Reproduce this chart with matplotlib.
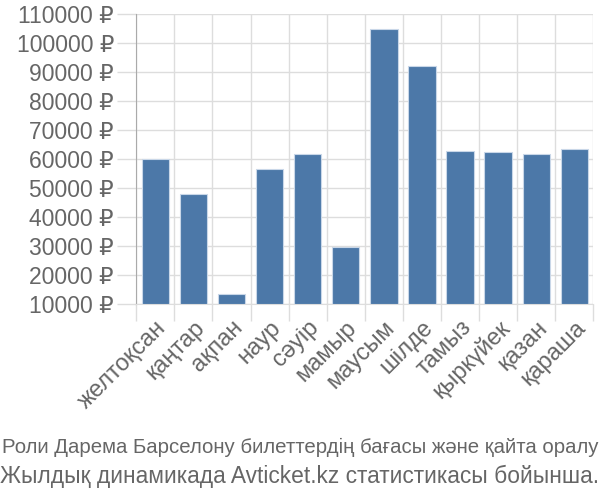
import matplotlib
matplotlib.use("Agg")
import matplotlib.pyplot as plt
import numpy as np

months = ["желтоқсан", "қаңтар", "ақпан", "наур", "сәуір", "мамыр",
          "маусым", "шілде", "тамыз", "қыркүйек", "қазан", "қараша"]
prices = [59900, 47900, 13300, 56400, 61600, 29500,
          104800, 92100, 62600, 62400, 61600, 63400]
yticks = [10000, 20000, 30000, 40000, 50000, 60000,
          70000, 80000, 90000, 100000, 110000]
caption = ["Роли Дарема Барселону билеттердің бағасы және қайта оралу",
           "Жылдық динамикада Avticket.kz статистикасы бойынша."]

plt.rcParams['font.family'] = ['Liberation Sans', 'DejaVu Sans']

grid_c = "#dddddd"
text_c = "#666666"

fig = plt.figure(figsize=(6, 5), dpi=100)
ax = fig.add_axes([0.227, 0.392, 0.762, 0.58])

x = np.arange(len(months))
ax.bar(x, np.array(prices) - yticks[0], bottom=yticks[0], width=0.72,
       color="#4c78a8", edgecolor="#c9d7e8", linewidth=0.8, zorder=3)

ax.set_xlim(-0.5, len(months) - 0.5)
ax.set_ylim(yticks[0], yticks[-1])

ax.set_yticks(yticks)
ax.set_yticklabels([f"{v} ₽" for v in yticks], fontsize=16.5, color=text_c)
ax.tick_params(axis='y', length=14, width=1, color=grid_c, pad=2)

ax.set_xticks(x)
ax.set_xticklabels(months, rotation=45, ha='right', rotation_mode='anchor',
                   fontsize=17, color=text_c)
ax.tick_params(axis='x', which='major', length=0, pad=9)
ax.set_xticks(np.arange(len(months) + 1) - 0.5, minor=True)
ax.tick_params(axis='x', which='minor', length=12, width=1, color=grid_c)

ax.grid(True, axis='y', color=grid_c, linewidth=1, zorder=0)
ax.grid(True, axis='x', which='minor', color=grid_c, linewidth=1, zorder=0)

for s in ['top', 'right']:
    ax.spines[s].set_visible(False)
ax.spines['left'].set_color("#aaaaaa")
ax.spines['bottom'].set_color(grid_c)

fig.text(0.5, 0.105, caption[0], ha='center', va='center', fontsize=14.7, color=text_c)
fig.text(0.5, 0.048, caption[1], ha='center', va='center', fontsize=16.4, color=text_c)

fig.savefig("out.png", dpi=100)
